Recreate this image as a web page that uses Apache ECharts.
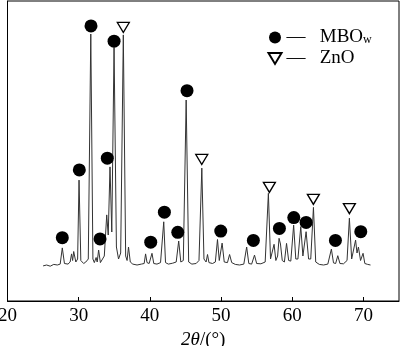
<!DOCTYPE html>
<html><head><meta charset="utf-8">
<script src="https://cdn.jsdelivr.net/npm/echarts@6/dist/echarts.min.js"></script>
<style>html,body{margin:0;padding:0;background:#fff}#c{width:400px;height:346px}</style>
</head><body><div id="c"></div>
<script>
// XRD trace: 2θ (deg) and relative intensity (a.u.)
var traceTheta = [25.0,25.5,26.0,26.5,27.0,27.4,27.7,28.0,28.5,28.8,29.0,29.15,29.3,29.6,29.85,30.05,30.3,30.7,31.0,31.35,31.7,32.0,32.2,32.45,32.6,32.8,33.05,33.3,33.6,33.94,34.15,34.4,34.65,34.97,35.3,35.6,35.9,36.27,36.6,36.8,37.0,37.25,37.6,38.2,38.8,39.2,39.4,39.6,39.9,40.3,40.55,41.0,41.5,41.95,42.2,42.6,43.2,43.7,44.05,44.35,44.7,45.1,45.45,45.9,46.5,46.9,47.3,47.6,47.9,48.1,48.3,48.8,49.2,49.5,49.75,50.15,50.45,50.9,51.2,51.5,52.0,52.6,53.2,53.6,53.9,54.3,54.7,55.0,55.6,56.2,56.65,56.95,57.2,57.45,57.7,57.95,58.15,58.35,58.6,58.9,59.2,59.5,59.8,60.2,60.5,60.8,61.2,61.5,61.95,62.3,62.6,62.98,63.3,63.8,64.4,65.0,65.5,65.8,66.1,66.4,66.7,67.2,67.7,68.03,68.35,68.6,68.9,69.1,69.3,69.6,69.95,70.2,70.6,71.0];
var traceInt = [11.7,12.0,11.6,12.2,12.0,12.3,17.7,12.5,12.3,13.0,15.7,13.5,16.5,13.0,14.0,40.3,13.5,12.5,13.0,14.0,89.0,14.0,12.8,14.5,13.0,17.0,12.8,13.0,15.0,28.7,22.0,44.7,23.0,84.5,18.0,14.0,16.0,88.7,15.0,13.5,18.0,13.0,12.3,12.0,12.3,12.5,15.7,12.8,12.5,15.9,12.5,12.3,12.8,26.4,12.8,12.3,12.6,13.0,20.0,13.0,13.5,67.0,13.0,12.3,12.5,13.5,44.3,14.0,13.0,15.5,12.8,12.5,13.0,20.5,13.5,19.3,13.0,12.8,15.5,12.8,12.2,12.0,12.3,18.0,12.5,12.3,15.3,12.5,12.4,13.0,35.9,14.0,13.5,18.9,13.5,15.0,20.9,19.0,13.5,13.0,19.2,13.5,13.3,25.3,14.0,14.0,24.8,15.0,23.1,14.0,14.0,31.2,13.0,12.2,12.0,12.3,17.3,12.7,12.5,15.1,12.5,12.4,13.5,27.6,14.0,14.5,20.3,16.0,18.0,13.5,15.9,12.5,12.2,12.0];
// phase markers (position of marker above peak)
var mboTheta = [27.70,30.09,31.73,33.00,34.02,34.97,40.12,42.04,43.92,45.22,49.96,54.54,58.20,60.22,61.95,66.07,69.63];
var mboInt   = [21.1,43.7,91.7,20.7,47.6,86.6,19.6,29.6,22.9,70.1,23.3,20.2,24.2,27.8,26.2,20.2,23.1];
var znoTheta = [36.27,47.29,56.79,62.97,68.03];
var znoInt   = [91.2,47.2,37.9,33.9,30.8];
var xTicks = [20,30,40,50,60,70];

function zip(a,b){return a.map(function(v,i){return [v,b[i]];});}
var serif = '"Liberation Serif","DejaVu Serif",serif';
var downTri = 'path://M0,0L12,0L6,10Z';

var chart = echarts.init(document.getElementById('c'), null, {renderer:'canvas'});
chart.setOption({
  animation:false,
  backgroundColor:'#fff',
  grid:{left:7.5,right:1,top:1,bottom:45,show:true,borderColor:'#000',borderWidth:1,backgroundColor:'transparent',
        containLabel:false, outerBoundsMode:'none'},
  legend:{
    left:267.5, top:28, padding:0, orient:'vertical', itemGap:2, itemWidth:13, itemHeight:12,
    data:[{name:'MBO',icon:'circle'},{name:'ZnO',icon:downTri}],
    textStyle:{fontFamily:serif,fontSize:19,lineHeight:16,color:'#000',
      rich:{s:{fontFamily:serif,fontSize:12,lineHeight:8,color:'#000',verticalAlign:'bottom'}}},
    formatter:function(n){return n==='MBO' ? '— \u2002MBO{s|w}' : '— \u2002ZnO';}
  },
  xAxis:{
    type:'value', min:20, max:75, interval:10,
    axisLine:{show:true,lineStyle:{color:'#000',width:1}},
    axisTick:{show:true,inside:true,length:4,lineStyle:{color:'#000'},customValues:xTicks},
    axisLabel:{fontFamily:serif,fontSize:19,color:'#000',margin:6,customValues:xTicks},
    splitLine:{show:false},
    name:'{i|2θ}/(°)', nameLocation:'middle', nameGap:25,
    nameTextStyle:{fontFamily:serif,fontSize:19,color:'#000',
      rich:{i:{fontFamily:serif,fontSize:19,fontStyle:'italic',color:'#000'}}}
  },
  yAxis:{
    type:'value', min:0, max:100,
    axisLine:{show:true,lineStyle:{color:'#000',width:1}},
    axisTick:{show:false}, axisLabel:{show:false}, splitLine:{show:false}
  },
  series:[
    {type:'line', name:'trace', data:zip(traceTheta,traceInt), showSymbol:false, symbol:'none',
     lineStyle:{color:'#333',width:1}, z:2},
    {type:'scatter', name:'MBO', data:zip(mboTheta,mboInt), symbol:'circle', symbolSize:13,
     itemStyle:{color:'#000',opacity:1}, z:3},
    {type:'scatter', name:'ZnO', data:zip(znoTheta,znoInt), symbol:downTri, symbolSize:[12,10],
     itemStyle:{color:'#fff',borderColor:'#000',borderWidth:1.3,opacity:1}, z:3}
  ]
});
</script></body></html>
